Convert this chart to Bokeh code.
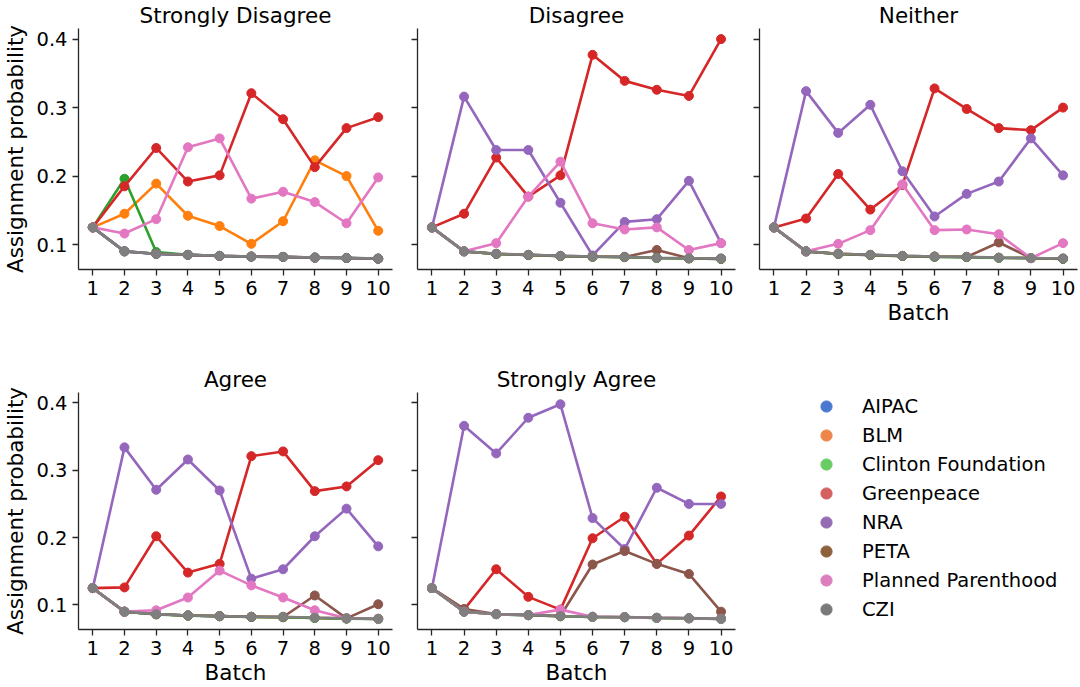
from bokeh.plotting import figure
from bokeh.models import Legend, LegendItem, Range1d, FixedTicker, CustomLabelingPolicy
from bokeh.layouts import column, row
from bokeh.embed import file_html
from bokeh.resources import INLINE

batches = [1, 2, 3, 4, 5, 6, 7, 8, 9, 10]
orgs = ["AIPAC", "BLM", "Clinton Foundation", "Greenpeace", "NRA", "PETA",
        "Planned Parenthood", "CZI"]
line_colors = ["#1f77b4", "#ff7f0e", "#2ca02c", "#d62728", "#9467bd", "#8c564b",
               "#e377c2", "#7f7f7f"]
legend_colors = ["#4878d0", "#ee854a", "#6acc64", "#d65f5f", "#956cb4", "#8c613c",
                 "#dc7ec0", "#797979"]
panel_titles = ["Strongly Disagree", "Disagree", "Neither", "Agree", "Strongly Agree"]
y_ticks = [0.1, 0.2, 0.3, 0.4]

strongly_disagree = {
    "AIPAC":              [0.125, 0.090, 0.0862, 0.0848, 0.0833, 0.0823, 0.0818, 0.0808, 0.0803, 0.0793],
    "BLM":                [0.125, 0.145, 0.189, 0.142, 0.127, 0.101, 0.134, 0.223, 0.200, 0.120],
    "Clinton Foundation": [0.125, 0.196, 0.089, 0.0848, 0.0833, 0.0823, 0.0818, 0.0808, 0.0803, 0.0793],
    "Greenpeace":         [0.125, 0.185, 0.241, 0.192, 0.201, 0.321, 0.283, 0.213, 0.270, 0.286],
    "NRA":                [0.125, 0.090, 0.0864, 0.0849, 0.0834, 0.0824, 0.0819, 0.0809, 0.0804, 0.0794],
    "PETA":               [0.125, 0.090, 0.0864, 0.0849, 0.0834, 0.0824, 0.0819, 0.0809, 0.0804, 0.0794],
    "Planned Parenthood": [0.125, 0.116, 0.137, 0.242, 0.255, 0.167, 0.177, 0.162, 0.131, 0.198],
    "CZI":                [0.125, 0.090, 0.0865, 0.0850, 0.0835, 0.0825, 0.0820, 0.0810, 0.0805, 0.0795],
}
disagree = {
    "AIPAC":              [0.125, 0.090, 0.0862, 0.0847, 0.0832, 0.0822, 0.0817, 0.0803, 0.0798, 0.0790],
    "BLM":                [0.125, 0.090, 0.0863, 0.0848, 0.0833, 0.0823, 0.0818, 0.0804, 0.0799, 0.0792],
    "Clinton Foundation": [0.125, 0.090, 0.0861, 0.0846, 0.0831, 0.0821, 0.0816, 0.0802, 0.0797, 0.0789],
    "Greenpeace":         [0.125, 0.145, 0.227, 0.170, 0.201, 0.377, 0.339, 0.326, 0.317, 0.400],
    "NRA":                [0.125, 0.316, 0.238, 0.238, 0.161, 0.084, 0.133, 0.137, 0.193, 0.102],
    "PETA":               [0.125, 0.090, 0.0864, 0.0849, 0.0834, 0.0824, 0.0819, 0.092, 0.0800, 0.0794],
    "Planned Parenthood": [0.125, 0.090, 0.102, 0.170, 0.221, 0.131, 0.122, 0.125, 0.092, 0.102],
    "CZI":                [0.125, 0.090, 0.0865, 0.0850, 0.0835, 0.0825, 0.0820, 0.0805, 0.0800, 0.0795],
}
neither = {
    "AIPAC":              [0.125, 0.090, 0.0862, 0.0846, 0.0832, 0.0821, 0.0817, 0.0806, 0.0801, 0.0791],
    "BLM":                [0.125, 0.090, 0.0863, 0.0848, 0.0833, 0.0823, 0.0818, 0.0807, 0.0802, 0.0793],
    "Clinton Foundation": [0.125, 0.090, 0.0861, 0.0845, 0.0831, 0.0820, 0.0816, 0.0805, 0.0800, 0.0790],
    "Greenpeace":         [0.125, 0.138, 0.203, 0.151, 0.187, 0.328, 0.298, 0.270, 0.267, 0.300],
    "NRA":                [0.125, 0.324, 0.263, 0.304, 0.207, 0.141, 0.174, 0.192, 0.255, 0.201],
    "PETA":               [0.125, 0.090, 0.0864, 0.0849, 0.0834, 0.0824, 0.0819, 0.103, 0.0803, 0.0794],
    "Planned Parenthood": [0.125, 0.090, 0.101, 0.121, 0.188, 0.121, 0.122, 0.115, 0.0800, 0.102],
    "CZI":                [0.125, 0.090, 0.0865, 0.0850, 0.0835, 0.0825, 0.0820, 0.0808, 0.0803, 0.0795],
}
agree = {
    "AIPAC":              [0.125, 0.090, 0.0861, 0.0842, 0.0832, 0.0822, 0.0818, 0.0807, 0.0798, 0.0792],
    "BLM":                [0.125, 0.090, 0.0862, 0.0843, 0.0833, 0.0823, 0.0819, 0.0808, 0.0799, 0.0793],
    "Clinton Foundation": [0.125, 0.090, 0.0860, 0.0841, 0.0831, 0.0821, 0.0817, 0.0806, 0.0797, 0.0791],
    "Greenpeace":         [0.125, 0.126, 0.202, 0.148, 0.161, 0.321, 0.328, 0.269, 0.276, 0.315],
    "NRA":                [0.125, 0.334, 0.271, 0.316, 0.270, 0.139, 0.153, 0.202, 0.243, 0.187],
    "PETA":               [0.125, 0.090, 0.0863, 0.0844, 0.0834, 0.0824, 0.0821, 0.114, 0.0800, 0.101],
    "Planned Parenthood": [0.125, 0.090, 0.092, 0.111, 0.151, 0.129, 0.111, 0.092, 0.0802, 0.0794],
    "CZI":                [0.125, 0.090, 0.0863, 0.0844, 0.0834, 0.0824, 0.0824, 0.0810, 0.0800, 0.0795],
}
strongly_agree = {
    "AIPAC":              [0.125, 0.090, 0.0862, 0.0847, 0.0832, 0.0822, 0.0817, 0.0807, 0.0801, 0.0792],
    "BLM":                [0.125, 0.090, 0.0863, 0.0848, 0.0833, 0.0823, 0.0818, 0.0808, 0.0802, 0.0793],
    "Clinton Foundation": [0.125, 0.090, 0.0861, 0.0846, 0.0831, 0.0821, 0.0816, 0.0806, 0.0800, 0.0791],
    "Greenpeace":         [0.125, 0.093, 0.153, 0.112, 0.093, 0.199, 0.231, 0.161, 0.203, 0.261],
    "NRA":                [0.125, 0.366, 0.325, 0.378, 0.398, 0.229, 0.183, 0.274, 0.250, 0.250],
    "PETA":               [0.125, 0.094, 0.0865, 0.0850, 0.0835, 0.160, 0.180, 0.161, 0.146, 0.090],
    "Planned Parenthood": [0.125, 0.090, 0.0864, 0.0849, 0.093, 0.0824, 0.0819, 0.0809, 0.0803, 0.0794],
    "CZI":                [0.125, 0.090, 0.0865, 0.0850, 0.0835, 0.0825, 0.0820, 0.0810, 0.0804, 0.0795],
}
panels_data = [strongly_disagree, disagree, neither, agree, strongly_agree]

FONT = "DejaVu Sans"
SPINE = "#262626"
FRAME_W = 318
FRAME_H = 241


def make_panel(idx, left, right, top, bottom, show_ylabels, ylabel, xlabel):
    width = left + FRAME_W + right
    height = top + FRAME_H + bottom
    p = figure(width=width, height=height,
               x_range=Range1d(0.55, 10.45), y_range=Range1d(0.0635, 0.4155),
               output_backend="svg", toolbar_location=None,
               min_border_left=left, min_border_right=right,
               min_border_top=top, min_border_bottom=bottom,
               title=panel_titles[idx])
    p.title.text_font = FONT
    p.title.text_font_size = "21.5px"
    p.title.text_font_style = "normal"
    p.title.align = "center"
    p.title.text_color = "#000000"
    p.title.standoff = 1
    p.outline_line_color = None
    p.grid.visible = False
    p.background_fill_color = "white"
    p.border_fill_color = "white"

    for ax in (p.xaxis[0], p.yaxis[0]):
        ax.axis_line_color = SPINE
        ax.axis_line_width = 1.3
        ax.major_tick_line_color = SPINE
        ax.major_tick_line_width = 1.3
        ax.major_tick_out = 6
        ax.major_tick_in = 0
        ax.minor_tick_line_color = None
        ax.major_label_text_font = FONT
        ax.major_label_text_font_size = "19.5px"
        ax.major_label_text_color = "#000000"
        ax.axis_label_text_font = FONT
        ax.axis_label_text_font_size = "21.5px"
        ax.axis_label_text_font_style = "normal"
        ax.axis_label_text_color = "#000000"
        ax.major_label_standoff = 5
        ax.axis_label_standoff = 5

    p.xaxis[0].ticker = FixedTicker(ticks=batches)
    p.yaxis[0].ticker = FixedTicker(ticks=y_ticks)
    if not show_ylabels:
        p.yaxis[0].major_label_text_font_size = "0px"
        p.yaxis[0].major_label_policy = CustomLabelingPolicy(code="return []")
    if ylabel:
        p.yaxis[0].axis_label = ylabel
    if xlabel:
        p.xaxis[0].axis_label = xlabel
        p.xaxis[0].axis_label_standoff = 2

    data = panels_data[idx]
    for org, col in zip(orgs, line_colors):
        p.line(batches, data[org], line_color=col, line_width=2.6)
        p.scatter(batches, data[org], size=9, fill_color=col, line_color=col)
    return p


p1 = make_panel(0, 74, 12, 28, 66, True, "Assignment probability", None)
p2 = make_panel(1, 13, 11, 28, 66, False, None, None)
p3 = make_panel(2, 13, 3, 28, 66, False, None, "Batch")
p4 = make_panel(3, 74, 12, 55, 56, True, "Assignment probability", "Batch")
p5 = make_panel(4, 13, 11, 55, 56, False, None, "Batch")

# legend panel (proxy renderers with no visible points)
pl = figure(width=334, height=352, x_range=Range1d(0, 1), y_range=Range1d(0, 1),
            output_backend="svg", toolbar_location=None,
            x_axis_location=None, y_axis_location=None,
            min_border_left=66, min_border_right=0, min_border_top=57, min_border_bottom=0)
pl.outline_line_color = None
pl.grid.visible = False
items = []
for org, col in zip(orgs, legend_colors):
    r = pl.scatter(x=[float("nan")], y=[float("nan")], size=11, fill_color=col, line_color=col)
    items.append(LegendItem(label=org, renderers=[r]))
legend = Legend(items=items, location="top_left")
legend.border_line_color = None
legend.background_fill_alpha = 0
legend.padding = 0
legend.margin = 0
legend.spacing = 1
legend.glyph_height = 28
legend.glyph_width = 28
legend.label_height = 20
legend.label_standoff = 22
legend.label_text_font = FONT
legend.label_text_font_size = "19.5px"
legend.label_text_color = "#000000"
pl.add_layout(legend)

layout = column(row(p1, p2, p3), row(p4, p5, pl))
open("out.html", "w").write(file_html(layout, INLINE))
